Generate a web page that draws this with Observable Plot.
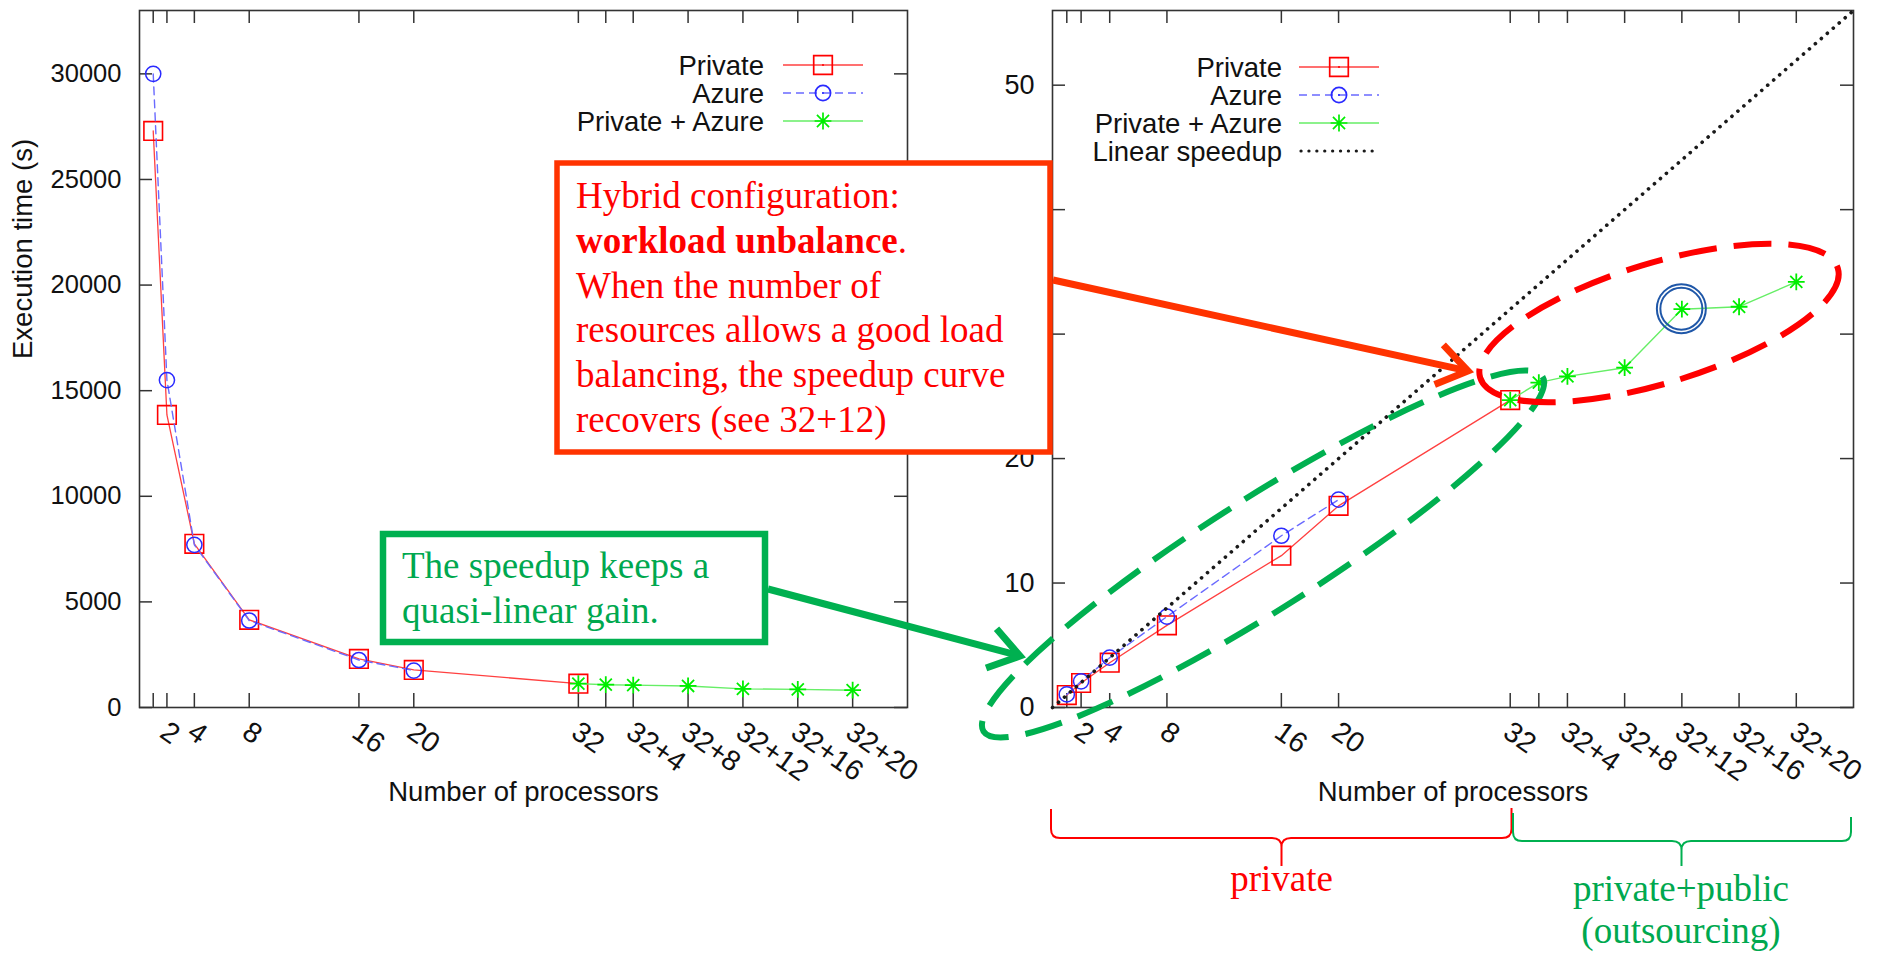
<!DOCTYPE html>
<html><head><meta charset="utf-8">
<script src="https://cdn.jsdelivr.net/npm/d3@7"></script>
<script src="https://cdn.jsdelivr.net/npm/@observablehq/plot@0.6"></script>
<style>
html,body{margin:0;padding:0;background:#fff;}
#page{position:relative;width:1885px;height:956px;overflow:hidden;background:#fff;}
#left,#right{position:absolute;top:0;}
#left{left:0px;} #right{left:940px;}
#overlay{position:absolute;left:0;top:0;}
</style></head>
<body><div id="page"><div id="left"></div><div id="right"></div><svg id="overlay" width="1885" height="956"></svg></div>
<script>
// ---------------- data ----------------
const procs = [1, 2, 4, 8, 16, 20, 32];
const privateTime = [27300, 13850, 7750, 4150, 2300, 1780, 1130];
const azureProcs = [1, 2, 4, 8, 16, 20];
const azureTime = [30000, 15500, 7700, 4120, 2250, 1750];
const hybridProcs = [32, 34, 36, 40, 44, 48, 52];
const hybridTime = [1130, 1080, 1060, 1020, 880, 860, 820];

const privateSpeedup = [1.0, 1.97, 3.6, 6.6, 12.2, 16.2, 24.7];
const azureSpeedup = [1.05, 2.1, 4.0, 7.3, 13.8, 16.7];
const hybridSpeedup = [24.7, 26.1, 26.6, 27.3, 32.0, 32.2, 34.2];
const linearX = [0, 56];
const linearY = [0, 56];

const xTickValues = [1, 2, 4, 8, 16, 20, 32, 34, 36, 40, 44, 48, 52];
const xTickLabels = ["", "2", "4", "8", "16", "20", "32", "", "32+4", "32+8", "32+12", "32+16", "32+20"];
const timeTicks = [0, 5000, 10000, 15000, 20000, 25000, 30000];
const speedupTicks = [0, 10, 20, 30, 40, 50];
const seriesNames = ["Private", "Azure", "Private + Azure", "Linear speedup"];

// ---------------- styles ----------------
const RED = "#ff0000", RED_LINE = "#ff4040";
const BLUE = "#2a2aff", BLUE_LINE = "#6a6aff";
const GREEN = "#00ee00", GREEN_LINE = "#66ee66";
const SANS = "'Liberation Sans', Arial, Helvetica, sans-serif";
const SERIF = "'Liberation Serif', 'Times New Roman', serif";
const DOTS = "0.1,7.8";

const squareSym = {draw(ctx, size) { const r = Math.sqrt(size / Math.PI); ctx.rect(-r, -r, 2 * r, 2 * r); }};
const circleSym = {draw(ctx, size) { const r = Math.sqrt(size / Math.PI); ctx.moveTo(r, 0); ctx.arc(0, 0, r, 0, 2 * Math.PI); }};
const starSym = {draw(ctx, size) {
  const r = Math.sqrt(size / Math.PI), d = r * 0.72;
  ctx.moveTo(-r, 0); ctx.lineTo(r, 0); ctx.moveTo(0, -r); ctx.lineTo(0, r);
  ctx.moveTo(-d, -d); ctx.lineTo(d, d); ctx.moveTo(-d, d); ctx.lineTo(d, -d);
}};

const rows = (xs, ys) => xs.map((x, i) => ({x, y: ys[i]}));

function frameMarks(innerW, innerH, yTicks, yFmt, tickFont) {
  return [
    Plot.frame({stroke: "#333", strokeWidth: 1.6}),
    Plot.ruleX(xTickValues, {x: d => d, insetTop: innerH - 14, stroke: "#333", strokeWidth: 1.5}),
    Plot.ruleX(xTickValues, {x: d => d, insetBottom: innerH - 13, stroke: "#333", strokeWidth: 1.5}),
    Plot.ruleY(yTicks, {y: d => d, insetRight: innerW - 13, stroke: "#333", strokeWidth: 1.5}),
    Plot.ruleY(yTicks, {y: d => d, insetLeft: innerW - 13, stroke: "#333", strokeWidth: 1.5}),
    Plot.text(xTickValues, {x: d => d, text: (d, i) => xTickLabels[i], frameAnchor: "bottom", dy: 12, dx: 3,
      rotate: 35, textAnchor: "start", lineAnchor: "top", fontSize: 28.5, fill: "#111"}),
    Plot.text(yTicks, {y: d => d, text: yFmt, frameAnchor: "left", dx: -18, textAnchor: "end", lineAnchor: "middle",
      fontSize: tickFont, fill: "#111"}),
    Plot.text(["Number of processors"], {frameAnchor: "bottom", dy: 85, lineAnchor: "middle", fontSize: 27.5, fill: "#111"})
  ];
}

function seriesMarks(pr, az, hy, withLinear) {
  const m = [
    Plot.line(pr, {x: "x", y: "y", stroke: RED_LINE, strokeWidth: 1.3}),
    Plot.dot(pr, {x: "x", y: "y", symbol: squareSym, r: 9.3, stroke: RED, strokeWidth: 1.6, fill: "none"}),
    Plot.line(az, {x: "x", y: "y", stroke: BLUE_LINE, strokeWidth: 1.4, strokeDasharray: "8,5"}),
    Plot.dot(az, {x: "x", y: "y", symbol: circleSym, r: 7.6, stroke: BLUE, strokeWidth: 1.5, fill: "none"}),
    Plot.line(hy, {x: "x", y: "y", stroke: GREEN_LINE, strokeWidth: 1.4}),
    Plot.dot(hy, {x: "x", y: "y", symbol: starSym, r: 8.4, stroke: GREEN, strokeWidth: 1.8, fill: "none"})
  ];
  if (withLinear) m.push(Plot.line(rows(linearX, linearY), {x: "x", y: "y", stroke: "#1a1a1a", strokeWidth: 3.6,
    strokeDasharray: DOTS, strokeLinecap: "round"}));
  return m;
}

// ---------------- left chart: execution time ----------------
const leftW = 940, H = 820;
const left = Plot.plot({
  width: leftW, height: H,
  marginLeft: 139, marginRight: 33, marginTop: 10, marginBottom: 113,
  x: {domain: [0, 56], axis: null},
  y: {domain: [0, 33000], axis: null},
  style: {fontFamily: SANS, fontSize: "25px", color: "#111", background: "transparent", overflow: "visible"},
  marks: [
    ...frameMarks(leftW - 139 - 33, H - 10 - 113, timeTicks, d => String(d), 25.5),
    Plot.text(["Execution time (s)"], {frameAnchor: "left", dx: -116, rotate: -90, fontSize: 27.5, fill: "#111"}),
    ...seriesMarks(rows(procs, privateTime), rows(azureProcs, azureTime), rows(hybridProcs, hybridTime), false)
  ]
});
document.getElementById("left").appendChild(left);

// ---------------- right chart: speedup ----------------
const rightW = 945, rightOff = 940;
const right = Plot.plot({
  width: rightW, height: H,
  marginLeft: 112, marginRight: 32, marginTop: 10, marginBottom: 113,
  x: {domain: [0, 56], axis: null},
  y: {domain: [0, 56], axis: null},
  style: {fontFamily: SANS, fontSize: "27px", color: "#111", background: "transparent", overflow: "visible"},
  marks: [
    ...frameMarks(rightW - 112 - 32, H - 10 - 113, speedupTicks, d => String(d), 27),
    ...seriesMarks(rows(procs, privateSpeedup), rows(azureProcs, azureSpeedup), rows(hybridProcs, hybridSpeedup), true)
  ]
});
document.getElementById("right").appendChild(right);

// ---------------- overlay: legends + annotations ----------------
const ov = d3.select("#overlay");
const sym = (type, r) => d3.symbol().type(type).size(Math.PI * r * r)();

function legend(textEnd, s0, s1, ys, n) {
  const styles = [
    {stroke: RED_LINE, dash: null, sym: squareSym, r: 9.3, sc: RED},
    {stroke: BLUE_LINE, dash: "8,5", sym: circleSym, r: 7.6, sc: BLUE},
    {stroke: GREEN_LINE, dash: null, sym: starSym, r: 8.4, sc: GREEN},
    {stroke: "#1a1a1a", dash: DOTS, sym: null}
  ];
  const g = ov.append("g");
  for (let i = 0; i < n; i++) {
    const s = styles[i], y = ys[i];
    g.append("text").attr("x", textEnd).attr("y", y).attr("dy", "0.35em").attr("text-anchor", "end")
      .attr("font-family", SANS).attr("font-size", 27.5).attr("fill", "#111").text(seriesNames[i]);
    g.append("line").attr("x1", i === 3 ? s0 + 2 : s0).attr("x2", s1).attr("y1", y).attr("y2", y)
      .attr("stroke", s.stroke).attr("stroke-width", i === 3 ? 3.2 : 1.5)
      .attr("stroke-dasharray", s.dash).attr("stroke-linecap", i === 3 ? "round" : "butt");
    if (s.sym) {
      g.append("path").attr("d", sym(s.sym, s.r)).attr("transform", `translate(${(s0 + s1) / 2},${y})`)
        .attr("fill", "none").attr("stroke", s.sc).attr("stroke-width", 1.7);
      if (i < 2) g.append("circle").attr("cx", (s0 + s1) / 2).attr("cy", y).attr("r", 1).attr("fill", s.sc);
    }
  }
}
legend(764, 783, 863, [65, 93, 121], 3);
legend(1282, 1299, 1379, [67, 95, 123, 151], 4);

// ellipses
ov.append("ellipse").attr("cx", 1263).attr("cy", 554).attr("rx", 331).attr("ry", 56)
  .attr("transform", "rotate(-32.4 1263 554)").attr("fill", "none")
  .attr("stroke", "#00b050").attr("stroke-width", 6).attr("stroke-dasharray", "38,17");
ov.append("ellipse").attr("cx", 1659).attr("cy", 323).attr("rx", 187).attr("ry", 60)
  .attr("transform", "rotate(-17 1659 323)").attr("fill", "none")
  .attr("stroke", "#ff0000").attr("stroke-width", 6).attr("stroke-dasharray", "38,17");

// double circle around 32+12 point (positioned via the chart's scales)
const cx = rightOff + right.scale("x").apply(hybridProcs[4]);
const cy = right.scale("y").apply(hybridSpeedup[4]);
[24.5, 21].forEach(r => ov.append("circle").attr("cx", cx).attr("cy", cy).attr("r", r)
  .attr("fill", "none").attr("stroke", "#1f57a8").attr("stroke-width", 2));

// boxes
function box(x0, y0, x1, y1, stroke, sw) {
  ov.append("rect").attr("x", x0).attr("y", y0).attr("width", x1 - x0).attr("height", y1 - y0)
    .attr("fill", "#fff").attr("stroke", stroke).attr("stroke-width", sw);
}
box(557, 163, 1050, 452, "#ff3300", 5.5);
const redLines = [
  [{t: "Hybrid configuration:"}],
  [{t: "workload unbalance", b: true}, {t: "."}],
  [{t: "When the number of"}],
  [{t: "resources allows a good load"}],
  [{t: "balancing, the speedup curve"}],
  [{t: "recovers (see 32+12)"}]
];
const rt = ov.append("text").attr("font-family", SERIF).attr("font-size", 37).attr("fill", "#ff0000");
redLines.forEach((ln, i) => {
  const line = rt.append("tspan").attr("x", 576).attr("y", 208 + i * 44.8);
  ln.forEach(p => line.append("tspan").attr("font-weight", p.b ? "bold" : null).text(p.t));
});

box(383, 534, 765, 642, "#00b050", 6.5);
const gt = ov.append("text").attr("font-family", SERIF).attr("font-size", 37).attr("fill", "#00a84f");
["The speedup keeps a", "quasi-linear gain."].forEach((t, i) =>
  gt.append("tspan").attr("x", 402).attr("y", 578 + i * 45).text(t));

// arrows
function arrow(x0, y0, x1, y1, color, w, len, spread) {
  const a = Math.atan2(y1 - y0, x1 - x0);
  ov.append("line").attr("x1", x0).attr("y1", y0).attr("x2", x1 - Math.cos(a) * 4).attr("y2", y1 - Math.sin(a) * 4)
    .attr("stroke", color).attr("stroke-width", w);
  const p = s => [x1 - len * Math.cos(a + s), y1 - len * Math.sin(a + s)];
  ov.append("path").attr("d", `M${p(spread)}L${x1},${y1}L${p(-spread)}`).attr("fill", "none")
    .attr("stroke", color).attr("stroke-width", w).attr("stroke-linejoin", "miter").attr("stroke-miterlimit", 10);
}
arrow(1053, 280, 1468, 371, "#ff3300", 7, 36, 0.6);
arrow(768, 589, 1020, 656, "#00b050", 7, 36, 0.6);

// braces
ov.append("path").attr("d",
  "M1051,809 L1051,829 Q1051,838 1060,838 L1272,838 Q1281.5,838 1281.5,847 L1281.5,866 M1281.5,847 Q1281.5,838 1291,838 L1502,838 Q1511.5,838 1511.5,829 L1511.5,808")
  .attr("fill", "none").attr("stroke", "#ff0000").attr("stroke-width", 2);
ov.append("path").attr("d",
  "M1513,813 L1513,832 Q1513,841 1522,841 L1672,841 Q1681.5,841 1681.5,850 L1681.5,866 M1681.5,850 Q1681.5,841 1691,841 L1842,841 Q1851,841 1851,832 L1851,817")
  .attr("fill", "none").attr("stroke", "#00b050").attr("stroke-width", 2);
ov.append("text").attr("x", 1281.5).attr("y", 891).attr("text-anchor", "middle").attr("font-family", SERIF)
  .attr("font-size", 37).attr("fill", "#ff0000").text("private");
ov.append("text").attr("x", 1681).attr("y", 901).attr("text-anchor", "middle").attr("font-family", SERIF)
  .attr("font-size", 37).attr("fill", "#00a84f").text("private+public");
ov.append("text").attr("x", 1681).attr("y", 943).attr("text-anchor", "middle").attr("font-family", SERIF)
  .attr("font-size", 37).attr("fill", "#00a84f").text("(outsourcing)");
</script></body></html>
